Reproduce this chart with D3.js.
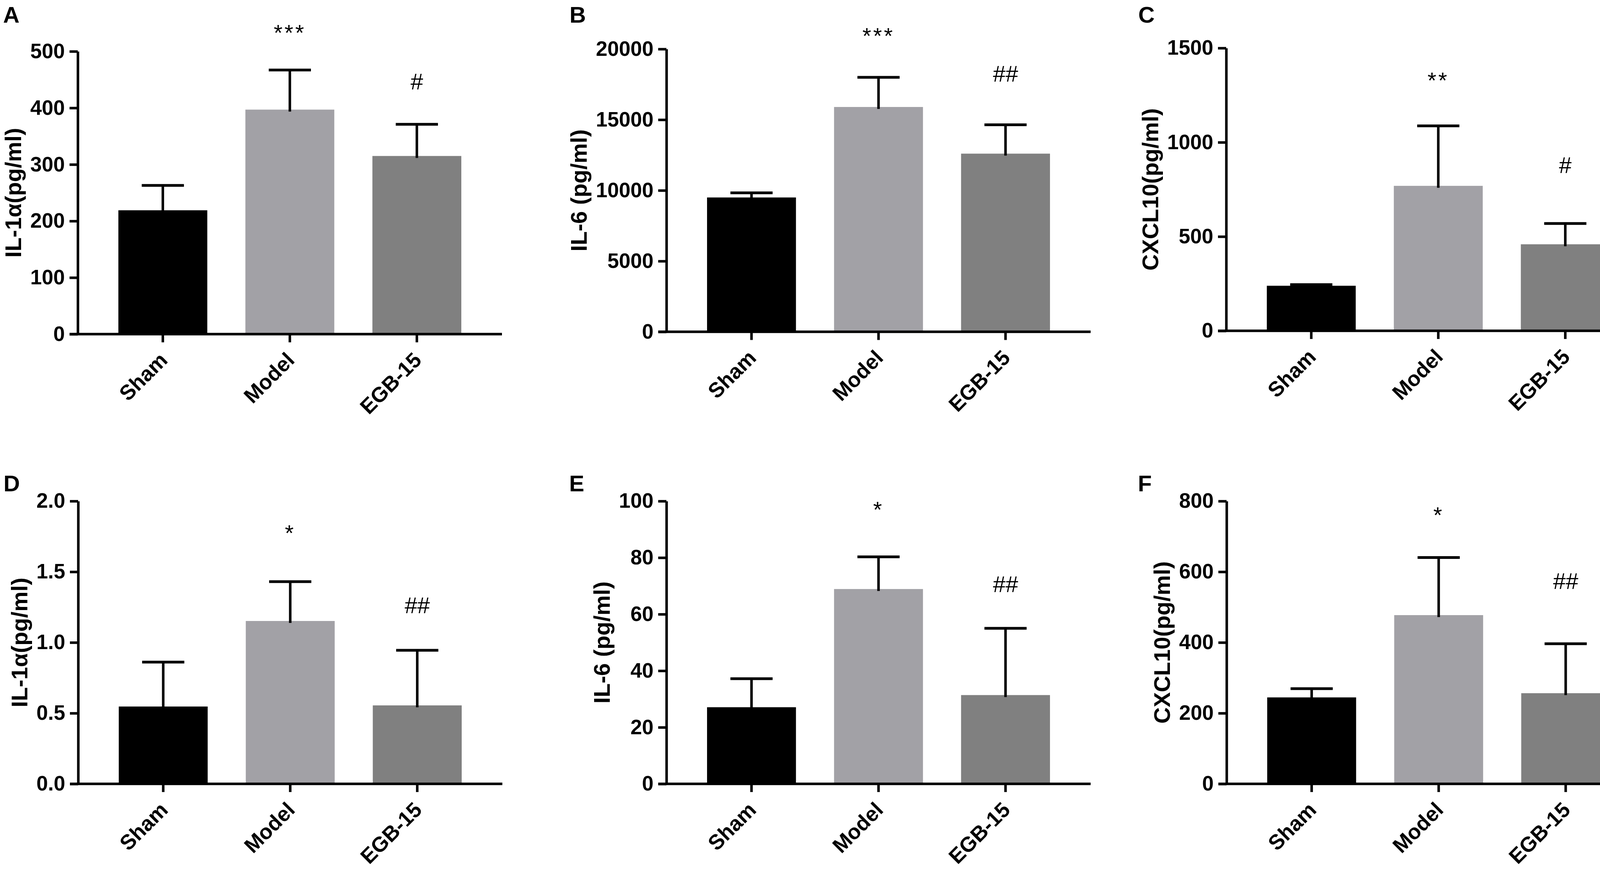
<!DOCTYPE html>
<html>
<head>
<meta charset="utf-8">
<script src="https://cdn.jsdelivr.net/npm/d3@7"></script>
<style>
    body { margin: 0; background: #ffffff; overflow: hidden; }
    svg { display: block; }
    svg text { font-family: "Liberation Sans", Arial, Helvetica, sans-serif; }
</style>
</head>
<body>
<div id="chart"></div>
<script>
// Groups and bar fills
let groups = ["Sham", "Model", "EGB-15"];
let barColors = ["#000000", "#a2a1a6", "#808080"];

// A - IL-1a
let il1aMeanA = [219, 397, 315];
let il1aTopA = [263, 467, 371];
let marksA = [null, "***", "#"];
let markValA = [null, 542, 447];
let ticksA = [0, 100, 200, 300, 400, 500];

// B - IL-6
let il6MeanB = [9500, 15900, 12600];
let il6TopB = [9830, 18000, 14640];
let marksB = [null, "***", "##"];
let markValB = [null, 21300, 18270];
let ticksB = [0, 5000, 10000, 15000, 20000];

// C - CXCL10
let cxclMeanC = [239, 769, 459];
let cxclTopC = [245, 1087, 569];
let marksC = [null, "**", "#"];
let markValC = [null, 1356, 880];
let ticksC = [0, 500, 1000, 1500];

// D - IL-1a
let il1aMeanD = [0.547, 1.152, 0.555];
let il1aTopD = [0.861, 1.43, 0.945];
let marksD = [null, "*", "##"];
let markValD = [null, 1.81, 1.265];
let ticksD = [0, 0.5, 1.0, 1.5, 2.0];

// E - IL-6
let il6MeanE = [27.1, 68.9, 31.4];
let il6TopE = [37.2, 80.3, 55.0];
let marksE = [null, "*", "##"];
let markValE = [null, 98.8, 70.7];
let ticksE = [0, 20, 40, 60, 80, 100];

// F - CXCL10
let cxclMeanF = [244.6, 477.4, 256.5];
let cxclTopF = [269.3, 640.2, 396.5];
let marksF = [null, "*", "##"];
let markValF = [null, 775, 575];
let ticksF = [0, 200, 400, 600, 800];

let plotW = 1086, plotH = 724;
let lineW = 6.5;

let svg = d3.select("#chart").append("svg")
    .attr("width", 4235)
    .attr("height", 2225);

svg.append("rect").attr("width", 4235).attr("height", 2225).attr("fill", "#ffffff");

class BarPanel {

    constructor(cfg) {
        Object.assign(this, cfg);
        this.initVis();
    }

    initVis() {
        let vis = this;

        vis.g = svg.append("g")
            .attr("transform", `translate(${vis.left}, ${vis.top})`);

        // Scales
        vis.y = d3.scaleLinear()
            .domain([0, d3.max(vis.ticks)])
            .range([plotH, 0]);

        vis.x = d3.scaleBand()
            .domain(groups)
            .range([0, plotW])
            .paddingInner(0.3)
            .paddingOuter(0.32);

        // Bars
        vis.g.selectAll("rect.bar")
            .data(groups)
            .enter().append("rect")
            .attr("class", "bar")
            .attr("x", d => vis.x(d))
            .attr("y", (d, i) => vis.y(vis.means[i]))
            .attr("width", vis.x.bandwidth())
            .attr("height", (d, i) => vis.y(0) - vis.y(vis.means[i]))
            .attr("fill", (d, i) => barColors[i]);

        // Error bars (upper only)
        let cx = d => vis.x(d) + vis.x.bandwidth() / 2;
        vis.g.selectAll("line.stem")
            .data(groups)
            .enter().append("line")
            .attr("x1", cx).attr("x2", cx)
            .attr("y1", (d, i) => vis.y(vis.means[i]) + 5)
            .attr("y2", (d, i) => vis.y(vis.tops[i]))
            .attr("stroke", "#000").attr("stroke-width", lineW);

        vis.g.selectAll("line.cap")
            .data(groups)
            .enter().append("line")
            .attr("x1", d => cx(d) - 54).attr("x2", d => cx(d) + 54)
            .attr("y1", (d, i) => vis.y(vis.tops[i]))
            .attr("y2", (d, i) => vis.y(vis.tops[i]))
            .attr("stroke", "#000").attr("stroke-width", 7);

        // Significance marks
        vis.g.selectAll("text.mark")
            .data(groups.filter((d, i) => vis.marks[i]))
            .enter().append("text")
            .attr("x", d => cx(d))
            .attr("y", d => {
                let i = groups.indexOf(d);
                let shift = vis.marks[i].includes("*") ? 0.58 : 0.36;
                return vis.y(vis.markVals[i]) + shift * 58;
            })
            .attr("text-anchor", "middle")
            .style("font-size", "58px")
            .style("letter-spacing", d => vis.marks[groups.indexOf(d)].includes("*") ? "5px" : "0px")
            .text(d => vis.marks[groups.indexOf(d)]);

        // Add y-axis
        let yAxis = d3.axisLeft(vis.y)
            .tickValues(vis.ticks)
            .tickSize(21)
            .tickSizeOuter(0)
            .tickPadding(12)
            .tickFormat(vis.fmt);

        vis.yAxisG = vis.g.append("g")
            .attr("class", "axis y-axis")
            .call(yAxis);

        vis.yAxisG.selectAll("path, line")
            .attr("stroke", "#000")
            .attr("stroke-width", lineW);
        vis.yAxisG.selectAll("text")
            .attr("fill", "#000")
            .style("font-size", "53px")
            .style("font-weight", "bold");

        // x-axis baseline, starts under the 0 tick
        vis.g.append("line")
            .attr("x1", -21).attr("x2", plotW)
            .attr("y1", vis.y(0)).attr("y2", vis.y(0))
            .attr("stroke", "#000").attr("stroke-width", lineW);

        // x ticks + rotated labels
        let xAxis = d3.axisBottom(vis.x)
            .tickSize(21)
            .tickSizeOuter(0);

        vis.xAxisG = vis.g.append("g")
            .attr("class", "axis x-axis")
            .attr("transform", `translate(0, ${vis.y(0)})`)
            .call(xAxis);

        vis.xAxisG.select(".domain").remove();
        vis.xAxisG.selectAll("line")
            .attr("stroke", "#000")
            .attr("stroke-width", lineW);
        vis.xAxisG.selectAll("text")
            .attr("x", 0).attr("y", 0).attr("dy", 0)
            .attr("transform", "translate(15, 70) rotate(-45)")
            .style("text-anchor", "end")
            .style("font-size", "54px")
            .style("font-weight", "bold")
            .attr("fill", "#000");

        // y title, kept a fixed gap left of the widest tick label
        let minX = d3.min(vis.yAxisG.selectAll(".tick text").nodes(), n => n.getBBox().x);
        vis.g.append("text")
            .attr("transform", `translate(${minX - 42}, ${plotH / 2}) rotate(-90)`)
            .attr("dy", "0.32em")
            .attr("text-anchor", "middle")
            .style("font-size", "58px")
            .style("font-weight", "bold")
            .text(vis.title);

        // Panel letter
        svg.append("text")
            .attr("x", vis.letterX)
            .attr("y", vis.letterY)
            .style("font-size", "58px")
            .style("font-weight", "bold")
            .text(vis.letter);
    }
}

let intFmt = d3.format("d");
let oneDec = d3.format(".1f");

new BarPanel({letter: "A", letterX: 8, letterY: 58, left: 199, top: 131.5,
    title: "IL-1\u03b1(pg/ml)", means: il1aMeanA, tops: il1aTopA, marks: marksA, markVals: markValA, ticks: ticksA, fmt: intFmt});
new BarPanel({letter: "B", letterX: 1458, letterY: 58, left: 1706, top: 125.5,
    title: "IL-6 (pg/ml)", means: il6MeanB, tops: il6TopB, marks: marksB, markVals: markValB, ticks: ticksB, fmt: intFmt});
new BarPanel({letter: "C", letterX: 2914, letterY: 58, left: 3139, top: 123,
    title: "CXCL10(pg/ml)", means: cxclMeanC, tops: cxclTopC, marks: marksC, markVals: markValC, ticks: ticksC, fmt: intFmt});
new BarPanel({letter: "D", letterX: 9, letterY: 1258, left: 200, top: 1283,
    title: "IL-1\u03b1(pg/ml)", means: il1aMeanD, tops: il1aTopD, marks: marksD, markVals: markValD, ticks: ticksD, fmt: oneDec});
new BarPanel({letter: "E", letterX: 1457, letterY: 1258, left: 1706, top: 1283,
    title: "IL-6 (pg/ml)", means: il6MeanE, tops: il6TopE, marks: marksE, markVals: markValE, ticks: ticksE, fmt: intFmt});
new BarPanel({letter: "F", letterX: 2913, letterY: 1258, left: 3140, top: 1283,
    title: "CXCL10(pg/ml)", means: cxclMeanF, tops: cxclTopF, marks: marksF, markVals: markValF, ticks: ticksF, fmt: intFmt});
</script>
</body>
</html>
